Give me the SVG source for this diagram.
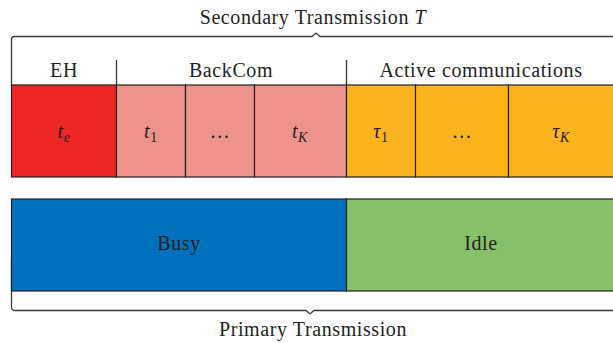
<svg xmlns="http://www.w3.org/2000/svg" width="613" height="343" viewBox="0 0 613 343">
<style>
.t{font-family:"Liberation Serif","DejaVu Serif",serif;font-size:20px;letter-spacing:0.6px;fill:#231f20;text-anchor:middle}
.i{font-style:italic}
.c{stroke:#231f20;stroke-width:1.2}
.br{fill:none;stroke:#3a3a3a;stroke-width:1.3}
</style>
<rect width="613" height="343" fill="#fff"/>
<g id="connectors">
<path class="br" d="M11.5,85 V40 Q11.5,36.5 15,36.5 H312 L316,33 L320,36.5 H613"/>
<path class="br" d="M11.5,258 V307 Q11.5,310.5 15,310.5 H306 L310,314 L314,310.5 H613"/>
<path class="br" d="M116.5,60 V85 M346.5,60 V85"/>
</g>
<g id="labels">
<text class="t" x="313" y="24">Secondary Transmission <tspan class="i">T</tspan></text>
<text class="t" x="64" y="77">EH</text>
<text class="t" x="231" y="77">BackCom</text>
<text class="t" x="481" y="77">Active communications</text>
<text class="t" x="313" y="336">Primary Transmission</text>
</g>
<g id="te"><rect class="c" x="11.5" y="85" width="105" height="92" fill="#ee2624"/><text class="t i" x="64" y="138">t<tspan font-size="14" dy="4">e</tspan></text></g>
<g id="t1"><rect class="c" x="116.5" y="85" width="69" height="92" fill="#ee938c"/><text class="t i" x="151" y="138">t<tspan font-size="14" dy="4" font-style="normal">1</tspan></text></g>
<g id="tdots"><rect class="c" x="185.5" y="85" width="69" height="92" fill="#ee938c"/><text class="t" x="220" y="138">…</text></g>
<g id="tK"><rect class="c" x="254.5" y="85" width="92" height="92" fill="#ee938c"/><text class="t i" x="300" y="138">t<tspan font-size="14" dy="4">K</tspan></text></g>
<g id="tau1"><rect class="c" x="346.5" y="85" width="69" height="92" fill="#fbb31d"/><text class="t i" x="381" y="138">τ<tspan font-size="14" dy="4" font-style="normal">1</tspan></text></g>
<g id="taudots"><rect class="c" x="415.5" y="85" width="93" height="92" fill="#fbb31d"/><text class="t" x="462" y="138">…</text></g>
<g id="tauK"><rect class="c" x="508.5" y="85" width="106" height="92" fill="#fbb31d"/><text class="t i" x="561" y="138">τ<tspan font-size="14" dy="4">K</tspan></text></g>
<g id="busy"><rect class="c" x="11.5" y="199" width="335" height="92" fill="#0071bc"/><text class="t" x="179" y="250">Busy</text></g>
<g id="idle"><rect class="c" x="346.5" y="199" width="268" height="92" fill="#86c06a"/><text class="t" x="481" y="250">Idle</text></g>
</svg>
